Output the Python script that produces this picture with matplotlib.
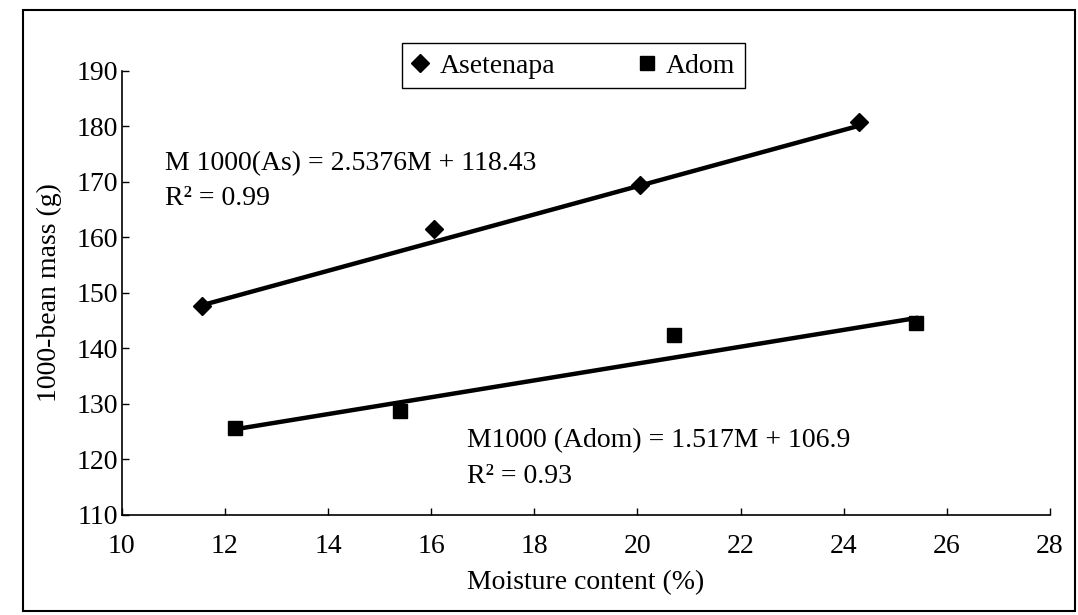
import matplotlib.pyplot as plt
from matplotlib.patches import Rectangle
import numpy as np

plt.rcParams['font.family'] = ['Liberation Serif', 'DejaVu Serif']

# data
moist_as = [11.55, 16.05, 20.05, 24.3]
mass_as = [147.7, 161.4, 169.5, 180.8]
moist_adom = [12.2, 15.4, 20.7, 25.4]
mass_adom = [125.7, 128.7, 142.3, 144.6]

# linear fits as printed on the chart
fit_as = (2.5376, 118.43)
fit_adom = (1.517, 106.9)

eq_as = "M 1000(As) = 2.5376M + 118.43\nR² = 0.99"
eq_adom = "M1000 (Adom) = 1.517M + 106.9\nR² = 0.93"

x_ticks = list(range(10, 30, 2))
y_ticks = list(range(110, 200, 10))

FS = 20

fig = plt.figure(figsize=(10.78, 6.15), dpi=100)
ax = fig.add_axes([0.113, 0.163, 0.861, 0.722])

# trend lines over each series' measured range
for xs, coef in [(moist_as, fit_as), (moist_adom, fit_adom)]:
    xr = np.array([min(xs), max(xs)])
    ax.plot(xr, np.polyval(coef, xr), color="black", linewidth=3.2, zorder=2)

ax.plot(moist_as, mass_as, linestyle="none", marker="D", markersize=9,
        color="black", label="Asetenapa", zorder=3)
ax.plot(moist_adom, mass_adom, linestyle="none", marker="s", markersize=10,
        color="black", label="Adom", zorder=3)

ax.set_xlim(10, 28)
ax.set_ylim(110, 190)
ax.set_xticks(x_ticks)
ax.set_yticks(y_ticks)
ax.tick_params(direction="in", length=5, labelsize=FS, width=1)
ax.tick_params(axis="y", pad=3)
ax.tick_params(axis="x", pad=14)
for side in ["top", "right"]:
    ax.spines[side].set_visible(False)
for side in ["left", "bottom"]:
    ax.spines[side].set_linewidth(1.2)

ax.set_xlabel("Moisture content (%)", fontsize=FS, labelpad=8)
ax.set_ylabel("1000-bean mass (g)", fontsize=FS, labelpad=10)

ax.text(10.83, 175.6, eq_as, fontsize=FS, va="top", ha="left",
        linespacing=1.55)
ax.text(16.7, 125.6, eq_adom, fontsize=FS, va="top", ha="left",
        linespacing=1.55)

leg = fig.legend(loc="upper center", bbox_to_anchor=(0.532, 0.952), ncol=2,
                 fontsize=FS, frameon=True, fancybox=False, edgecolor="black",
                 handlelength=0.6, handletextpad=0.4, columnspacing=3.0,
                 borderpad=0.35, framealpha=1)
leg.get_frame().set_linewidth(1.0)

# outer border of the figure
fig.patches.append(Rectangle((0.021, 0.006), 0.976, 0.978, transform=fig.transFigure,
                             fill=False, edgecolor="black", linewidth=1.5))

fig.savefig("out.png", dpi=100)
